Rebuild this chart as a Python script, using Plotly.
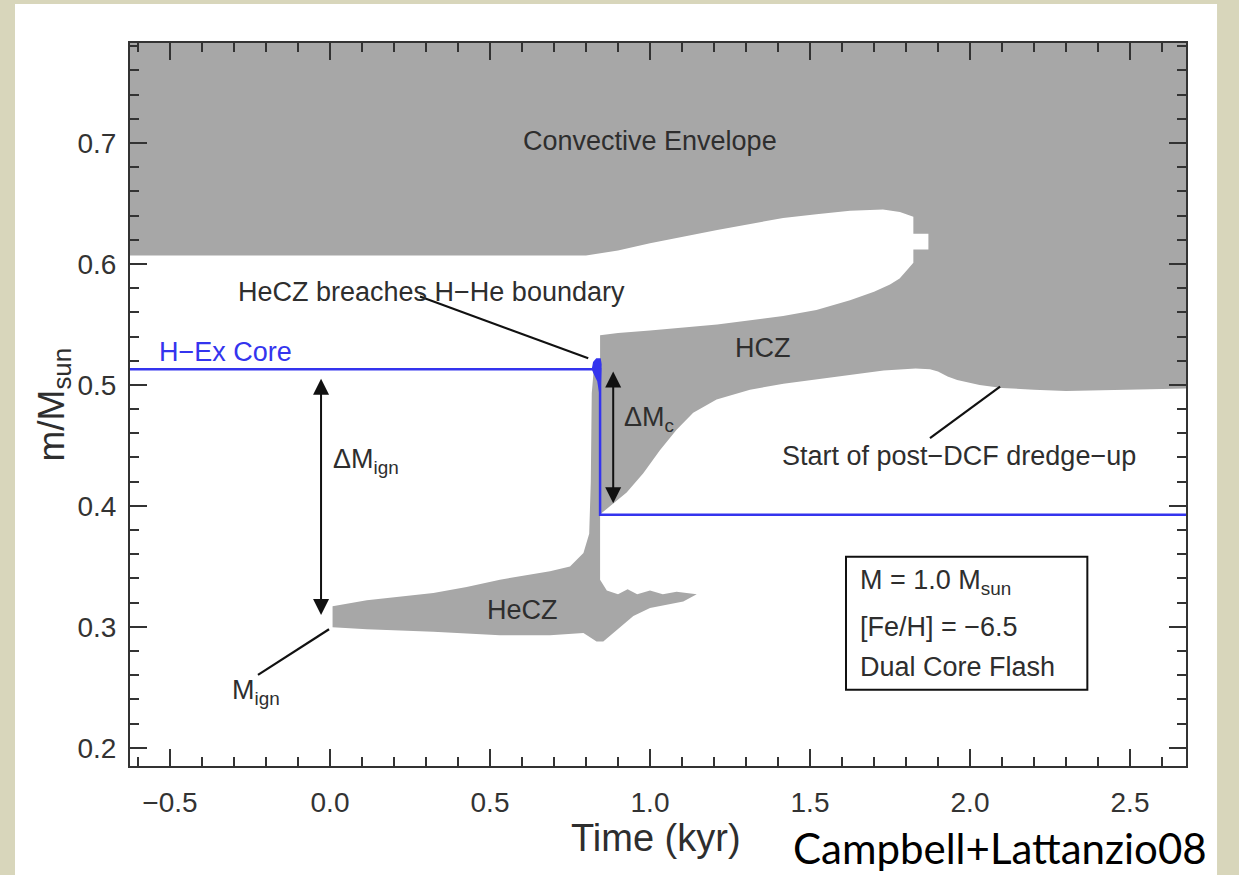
import plotly.graph_objects as go

# --- Kippenhahn-style convection zones (time in kyr, mass coordinate m/Msun) ---

# Outline of the convective envelope merged with the H convective zone (HCZ)
env_t = [-0.625, 2.675, 2.675,
         2.55, 2.45, 2.30, 2.20, 2.10, 2.03, 1.96, 1.93, 1.90, 1.875, 1.83,
         1.73, 1.52, 1.417, 1.3125, 1.208, 1.135, 1.083, 1.031, 0.979, 0.927,
         0.865, 0.850, 0.844,
         0.844, 0.90, 1.0, 1.21, 1.416, 1.52, 1.625, 1.70, 1.75, 1.78, 1.80,
         1.823, 1.823, 1.87, 1.87, 1.823, 1.823, 1.781, 1.728, 1.625, 1.52,
         1.416, 1.21, 1.0, 0.90, 0.80, -0.625]
env_m = [0.783, 0.783, 0.497,
         0.4965, 0.496, 0.495, 0.496, 0.4975, 0.500, 0.504, 0.507, 0.511, 0.513, 0.5135,
         0.512, 0.505, 0.501, 0.496, 0.488, 0.477, 0.463, 0.446, 0.427, 0.411,
         0.397, 0.394, 0.393,
         0.541, 0.543, 0.545, 0.550, 0.557, 0.562, 0.570, 0.577, 0.583, 0.588, 0.594,
         0.601, 0.612, 0.612, 0.625, 0.625, 0.639, 0.643, 0.645, 0.644, 0.641,
         0.638, 0.628, 0.617, 0.611, 0.607, 0.607]

# Outline of the He convective zone (HeCZ), including the breach spike
hecz_t = [0.008, 0.115, 0.323, 0.427, 0.531, 0.6875, 0.75, 0.792, 0.81, 0.815,
          0.818, 0.825, 0.844, 0.844,
          0.865, 0.90, 0.93, 0.96, 1.0, 1.04, 1.083, 1.12, 1.146,
          1.104, 1.0, 0.948, 0.896, 0.854, 0.833, 0.792, 0.6875, 0.531, 0.323,
          0.115, 0.008]
hecz_m = [0.317, 0.322, 0.328, 0.333, 0.339, 0.346, 0.350, 0.361, 0.377, 0.420,
          0.493, 0.515, 0.520, 0.339,
          0.330, 0.327, 0.331, 0.327, 0.330, 0.327, 0.329, 0.3275, 0.327,
          0.321, 0.3155, 0.309, 0.2975, 0.288, 0.288, 0.295, 0.293, 0.293, 0.296,
          0.298, 0.2997]

# Hydrogen-exhausted core mass
core_t = [-0.625, 0.844, 0.844, 2.675]
core_m = [0.513, 0.513, 0.3926, 0.3926]

# Small proton-ingestion blob at the H-He boundary
blob_t = [0.818, 0.822, 0.832, 0.846, 0.849, 0.848, 0.846, 0.843, 0.835, 0.824, 0.818]
blob_m = [0.513, 0.519, 0.522, 0.522, 0.517, 0.507, 0.495, 0.490, 0.503, 0.509, 0.513]

# Double-headed mass-difference arrows: (t, m_top, m_bottom)
dm_ign = (-0.028, 0.505, 0.3085)
dm_c = (0.885, 0.511, 0.401)

# Pointer lines for the labels
breach_line_t = [0.281, 0.807]
breach_line_m = [0.573, 0.522]
mign_line_t = [-0.225, -0.003]
mign_line_m = [0.2603, 0.298]
dredge_line_t = [1.875, 2.094]
dredge_line_m = [0.456, 0.4986]

# Axis ticks
x_ticks = [-0.5, 0.0, 0.5, 1.0, 1.5, 2.0, 2.5]
y_ticks = [0.2, 0.3, 0.4, 0.5, 0.6, 0.7]

GRAY = "#a7a7a7"
BLUE = "#3434ee"
INK = "#2e2e2e"
FONT = "Liberation Sans, Arial, Helvetica, sans-serif"

fig = go.Figure()

fig.add_trace(go.Scatter(x=env_t, y=env_m, fill="toself", fillcolor=GRAY,
                         mode="lines", line=dict(width=0, color=GRAY),
                         hoverinfo="skip", showlegend=False))
fig.add_trace(go.Scatter(x=hecz_t, y=hecz_m, fill="toself", fillcolor=GRAY,
                         mode="lines", line=dict(width=0, color=GRAY),
                         hoverinfo="skip", showlegend=False))
fig.add_trace(go.Scatter(x=core_t, y=core_m, mode="lines",
                         line=dict(width=2.5, color=BLUE),
                         hoverinfo="skip", showlegend=False))
fig.add_trace(go.Scatter(x=blob_t, y=blob_m, fill="toself", fillcolor=BLUE,
                         mode="lines", line=dict(width=0, color=BLUE),
                         hoverinfo="skip", showlegend=False))

for lt, lm in [(breach_line_t, breach_line_m), (mign_line_t, mign_line_m),
               (dredge_line_t, dredge_line_m)]:
    fig.add_trace(go.Scatter(x=lt, y=lm, mode="lines",
                             line=dict(width=2.2, color="#111111"),
                             hoverinfo="skip", showlegend=False))

# Double-headed arrows
for t, m_top, m_bot in [dm_ign, dm_c]:
    fig.add_annotation(x=t, y=m_top, ax=t, ay=m_bot, xref="x", yref="y",
                       axref="x", ayref="y", text="", showarrow=True,
                       arrowside="end+start", arrowhead=2, startarrowhead=2,
                       arrowsize=1.6, startarrowsize=1.6, arrowwidth=2,
                       arrowcolor="#111111", standoff=0, startstandoff=0)

# Text labels inside the plot
def label(x, y, text, size=27, color=INK, xanchor="center"):
    fig.add_annotation(x=x, y=y, xref="x", yref="y", text=text, showarrow=False,
                       xanchor=xanchor, yanchor="middle",
                       font=dict(family=FONT, size=size, color=color))

label(1.0, 0.702, "Convective Envelope")
label(0.317, 0.577, "HeCZ breaches H−He boundary")
label(1.352, 0.5306, "HCZ")
label(0.603, 0.314, "HeCZ")
label(0.003, 0.437, "ΔM<sub>ign</sub>", xanchor="left")
label(0.911, 0.472, "ΔM<sub>c</sub>", xanchor="left")
label(-0.3125, 0.246, "M<sub>ign</sub>", xanchor="left")
label(1.966, 0.4413, "Start of post−DCF dredge−up")
label(-0.54, 0.527, "H−Ex Core", color=BLUE, xanchor="left")

# Model parameter box
fig.add_shape(type="rect", xref="x", yref="y", x0=1.6125, x1=2.3667,
              y0=0.248, y1=0.358, line=dict(color="#111111", width=2),
              fillcolor="white", layer="above")
label(1.65, 0.337, "M = 1.0 M<sub>sun</sub>", xanchor="left")
label(1.65, 0.300, "[Fe/H] = −6.5", xanchor="left")
label(1.65, 0.267, "Dual Core Flash", xanchor="left")

# White panel behind the figure
fig.add_shape(type="rect", xref="paper", yref="paper", x0=-0.1089, x1=1.0294,
              y0=-0.16, y1=1.054, line=dict(width=0), fillcolor="white",
              layer="below")

# Axis titles and credit line
fig.add_annotation(x=0.498, y=-0.0996, xref="paper", yref="paper",
                   text="Time (kyr)", showarrow=False, xanchor="center",
                   yanchor="middle", font=dict(family=FONT, size=38, color=INK))
fig.add_annotation(x=-0.0729, y=0.5, xref="paper", yref="paper",
                   text="m/M<sub>sun</sub>", showarrow=False, textangle=-90,
                   xanchor="center", yanchor="middle",
                   font=dict(family=FONT, size=37, color=INK))
fig.add_annotation(x=0.824, y=-0.1134, xref="paper", yref="paper",
                   text="Campbell+Lattanzio08", showarrow=False,
                   xanchor="center", yanchor="middle",
                   font=dict(family="Lato, Noto Sans, sans-serif", size=42,
                             color="#000000"))

axis_common = dict(showline=True, linecolor="#333333", linewidth=2,
                   mirror="allticks", ticks="inside", tickcolor="#333333",
                   tickwidth=2, ticklen=17, showgrid=False, zeroline=False,
                   tickfont=dict(family=FONT, size=28, color="#333333"))

fig.update_xaxes(range=[-0.625, 2.675], tickvals=x_ticks, tickformat=".1f",
                 ticklabelstandoff=10,
                 minor=dict(dtick=0.1, tick0=0, ticks="inside", ticklen=9,
                            tickwidth=2, tickcolor="#333333", showgrid=False),
                 **axis_common)
fig.update_yaxes(range=[0.185, 0.7826], tickvals=y_ticks, tickformat=".1f",
                 ticklabelstandoff=6,
                 minor=dict(dtick=0.02, tick0=0, ticks="inside", ticklen=9,
                            tickwidth=2, tickcolor="#333333", showgrid=False),
                 **axis_common)

fig.update_layout(width=1239, height=875, autosize=False,
                  margin=dict(l=130, r=53, t=43, b=109),
                  paper_bgcolor="#d8d6bb", plot_bgcolor="white",
                  showlegend=False)

fig.write_html("out.html")
